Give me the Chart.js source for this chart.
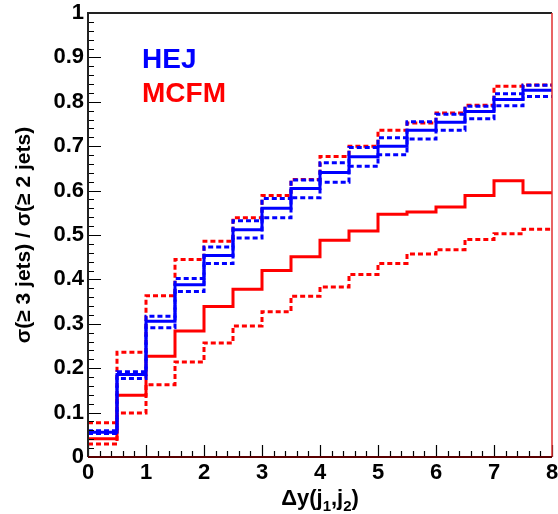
<!DOCTYPE html>
<html>
<head>
<meta charset="utf-8">
<script src="https://cdn.jsdelivr.net/npm/chart.js@4.4.1/dist/chart.umd.min.js"></script>
<style>
  html, body { margin: 0; padding: 0; background: #ffffff; }
  #wrap { width: 558px; height: 514px; position: relative; }
</style>
</head>
<body>
<div id="wrap"><canvas id="c" width="558" height="514"></canvas></div>
<script>
// ---- data ----
const binEdges = [0, 0.5, 1, 1.5, 2, 2.5, 3, 3.5, 4, 4.5, 5, 5.5, 6, 6.5, 7, 7.5, 8];
const hejCentral  = [0.056, 0.186, 0.306, 0.388, 0.454, 0.512, 0.560, 0.605, 0.641, 0.676, 0.700, 0.736, 0.754, 0.778, 0.805, 0.826];
const hejUpper    = [0.059, 0.192, 0.317, 0.402, 0.473, 0.532, 0.582, 0.624, 0.663, 0.697, 0.719, 0.755, 0.772, 0.790, 0.818, 0.837];
const hejLower    = [0.053, 0.177, 0.291, 0.373, 0.436, 0.493, 0.539, 0.584, 0.619, 0.655, 0.681, 0.716, 0.736, 0.762, 0.791, 0.812];
const mcfmCentral = [0.041, 0.139, 0.227, 0.284, 0.339, 0.378, 0.420, 0.451, 0.488, 0.509, 0.547, 0.552, 0.563, 0.589, 0.622, 0.595];
const mcfmUpper   = [0.077, 0.236, 0.363, 0.445, 0.486, 0.539, 0.589, 0.625, 0.677, 0.700, 0.736, 0.752, 0.775, 0.792, 0.835, 0.838];
const mcfmLower   = [0.029, 0.099, 0.163, 0.214, 0.257, 0.295, 0.327, 0.362, 0.383, 0.411, 0.436, 0.457, 0.467, 0.490, 0.503, 0.513];
const xTickLabels = ['0', '1', '2', '3', '4', '5', '6', '7', '8'];
const yTickLabels = ['0', '0.1', '0.2', '0.3', '0.4', '0.5', '0.6', '0.7', '0.8', '0.9', '1'];
const legendLabels = ['HEJ', 'MCFM'];
const yTitle = 'σ(≥ 3 jets) / σ(≥ 2 jets)';

const BLUE = '#0000ff', RED = '#ff0000';
const FONT = '"Liberation Sans", Arial, Helvetica, sans-serif';

function histPoints(vals) {
  const pts = vals.map((v, i) => ({ x: binEdges[i], y: v }));
  pts.push({ x: binEdges[binEdges.length - 1], y: vals[vals.length - 1] });
  return pts;
}
function ds(vals, color, dashed) {
  return {
    data: histPoints(vals),
    borderColor: color,
    borderWidth: 3,
    borderDash: dashed ? [5, 3] : [],
    stepped: 'before',
    pointRadius: 0,
    fill: false,
    tension: 0
  };
}

const decor = {
  id: 'decor',
  afterDraw(chart) {
    const ctx = chart.ctx;
    const a = chart.chartArea;
    const xs = chart.scales.x, ys = chart.scales.y;
    ctx.save();
    // ticks inside the frame
    ctx.strokeStyle = '#000';
    ctx.lineWidth = 1.2;
    ctx.beginPath();
    for (let i = 0; i <= 40; i++) {
      const v = i * 0.2;
      const px = Math.round(xs.getPixelForValue(v)) + 0.5;
      const len = (i % 5 === 0) ? 12 : 6;
      ctx.moveTo(px, a.bottom); ctx.lineTo(px, a.bottom - len);
    }
    for (let i = 0; i <= 50; i++) {
      const v = i * 0.02;
      const py = Math.round(ys.getPixelForValue(v)) + 0.5;
      const len = (i % 5 === 0) ? 13 : 6;
      ctx.moveTo(a.left, py); ctx.lineTo(a.left + len, py);
    }
    ctx.stroke();
    // frame
    ctx.lineWidth = 2;
    ctx.strokeStyle = '#222';
    ctx.beginPath();
    ctx.moveTo(a.left, a.bottom); ctx.lineTo(a.left, a.top); ctx.lineTo(a.right, a.top);
    ctx.stroke();
    ctx.strokeStyle = '#e03030';
    ctx.lineWidth = 1.5;
    ctx.beginPath();
    ctx.moveTo(a.right, a.top); ctx.lineTo(a.right, a.bottom);
    ctx.stroke();
    ctx.strokeStyle = '#5a0000';
    ctx.lineWidth = 2;
    ctx.beginPath();
    ctx.moveTo(a.left, a.bottom); ctx.lineTo(a.right, a.bottom);
    ctx.stroke();

    // legend text
    ctx.font = 'bold 28px ' + FONT;
    ctx.textAlign = 'left';
    ctx.textBaseline = 'alphabetic';
    ctx.fillStyle = BLUE;
    ctx.fillText(legendLabels[0], 142, 68);
    ctx.fillStyle = RED;
    ctx.fillText(legendLabels[1], 142, 102);

    // y title
    ctx.fillStyle = '#000';
    ctx.save();
    ctx.translate(30, (a.top + a.bottom) / 2);
    ctx.rotate(-Math.PI / 2);
    ctx.font = 'bold 21px ' + FONT;
    ctx.textAlign = 'center';
    ctx.textBaseline = 'alphabetic';
    ctx.fillText(yTitle, 0, 0);
    ctx.restore();

    // x title: Δy(j1,j2) with subscripts
    const big = 'bold 22px ' + FONT, small = 'bold 15px ' + FONT;
    const parts = [['Δy(j', big, 0], ['1', small, 6], [',j', big, 0], ['2', small, 6], [')', big, 0]];
    let total = 0;
    parts.forEach(p => { ctx.font = p[1]; total += ctx.measureText(p[0]).width; });
    let x = (a.left + a.right) / 2 - total / 2;
    const base = 505;
    ctx.textAlign = 'left';
    parts.forEach(p => {
      ctx.font = p[1];
      ctx.fillText(p[0], x, base + p[2]);
      x += ctx.measureText(p[0]).width;
    });
    ctx.restore();
  }
};

new Chart(document.getElementById('c'), {
  type: 'line',
  data: {
    datasets: [
      ds(hejCentral, BLUE, false),
      ds(hejUpper, BLUE, true),
      ds(hejLower, BLUE, true),
      ds(mcfmCentral, RED, false),
      ds(mcfmUpper, RED, true),
      ds(mcfmLower, RED, true)
    ]
  },
  options: {
    responsive: false,
    animation: false,
    events: [],
    layout: { padding: { top: 13, right: 6, left: 0, bottom: 0 } },
    plugins: { legend: { display: false }, tooltip: { enabled: false }, title: { display: false } },
    scales: {
      x: {
        type: 'linear', min: 0, max: 8,
        afterFit(s) { s.height = 57; s.paddingLeft = 0; s.paddingRight = 0; },
        afterBuildTicks(s) { s.ticks = xTickLabels.map(t => ({ value: Number(t) })); },
        ticks: {
          callback: (v, i) => xTickLabels[i],
          font: { family: FONT, size: 22, weight: 'bold' },
          color: '#000', padding: 3, maxRotation: 0, autoSkip: false
        },
        grid: { display: false, drawTicks: false },
        border: { display: false }
      },
      y: {
        type: 'linear', min: 0, max: 1,
        afterFit(s) { s.width = 88; s.paddingTop = 0; s.paddingBottom = 0; },
        afterBuildTicks(s) { s.ticks = yTickLabels.map(t => ({ value: Number(t) })); },
        ticks: {
          callback: (v, i) => yTickLabels[i],
          font: { family: FONT, size: 22, weight: 'bold' },
          color: '#000', padding: 4, autoSkip: false
        },
        grid: { display: false, drawTicks: false },
        border: { display: false }
      }
    }
  },
  plugins: [decor]
});
</script>
</body>
</html>
